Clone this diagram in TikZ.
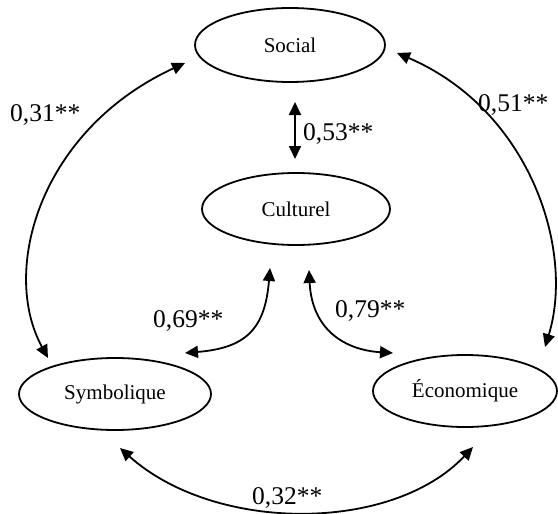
\documentclass[tikz,border=0pt]{standalone}
\usepackage{fontspec}
\setmainfont{Liberation Serif}
\usetikzlibrary{arrows.meta,shapes.geometric}
\begin{document}
\begin{tikzpicture}[x=1pt,y=-1pt,
  ell/.style={ellipse,draw,line width=1.8pt,inner sep=0pt,
    font=\fontsize{21}{24}\selectfont},
  lbl/.style={anchor=base west,inner sep=0pt,font=\fontsize{25.5}{28}\selectfont},
  dbl/.style={line width=1.8pt,{Triangle[length=13pt,width=12pt]}-{Triangle[length=13pt,width=12pt]}}]
\useasboundingbox (0,0) rectangle (558,514);
\node[ell,minimum width=190pt,minimum height=74pt] (soc) at (290,45) {Social};
\node[ell,minimum width=188pt,minimum height=72pt] (cul) at (296,209) {Culturel};
\node[ell,minimum width=192pt,minimum height=72pt] (sym) at (115,394) {Symbolique};
\node[ell,minimum width=184pt,minimum height=72pt] (eco) at (465,391) {Économique};
% arrow end points
\coordinate (sc1) at (295,102);
\coordinate (sc2) at (295,159);
\coordinate (ss1) at (185,63);
\coordinate (ss2) at (48,358);
\coordinate (se1) at (397,53);
\coordinate (se2) at (545,347);
\coordinate (cs1) at (270,268);
\coordinate (cs2) at (185,353);
\coordinate (ce1) at (309,270);
\coordinate (ce2) at (393,353);
\coordinate (ye1) at (120,448);
\coordinate (ye2) at (473,447);
% connectors
\draw[dbl] (sc1) -- (sc2);
\draw[dbl] (ss1) .. controls (40,130) and (0,270) .. (ss2);
\draw[dbl] (se1) .. controls (530,110) and (575,250) .. (se2);
\draw[dbl] (cs1) .. controls (265,330) and (245,348) .. (cs2);
\draw[dbl] (ce1) .. controls (312,330) and (345,350) .. (ce2);
\draw[dbl] (ye1) .. controls (215,533) and (392,533) .. (ye2);
% labels
\node[lbl] (l53) at (303,140) {0,53**};
\node[lbl] (l31) at (10,121) {0,31**};
\node[lbl] (l51) at (478,111) {0,51**};
\node[lbl] (l69) at (153,327) {0,69**};
\node[lbl] (l79) at (335,317) {0,79**};
\node[lbl] (l32) at (252,504) {0,32**};
\end{tikzpicture}
\end{document}
